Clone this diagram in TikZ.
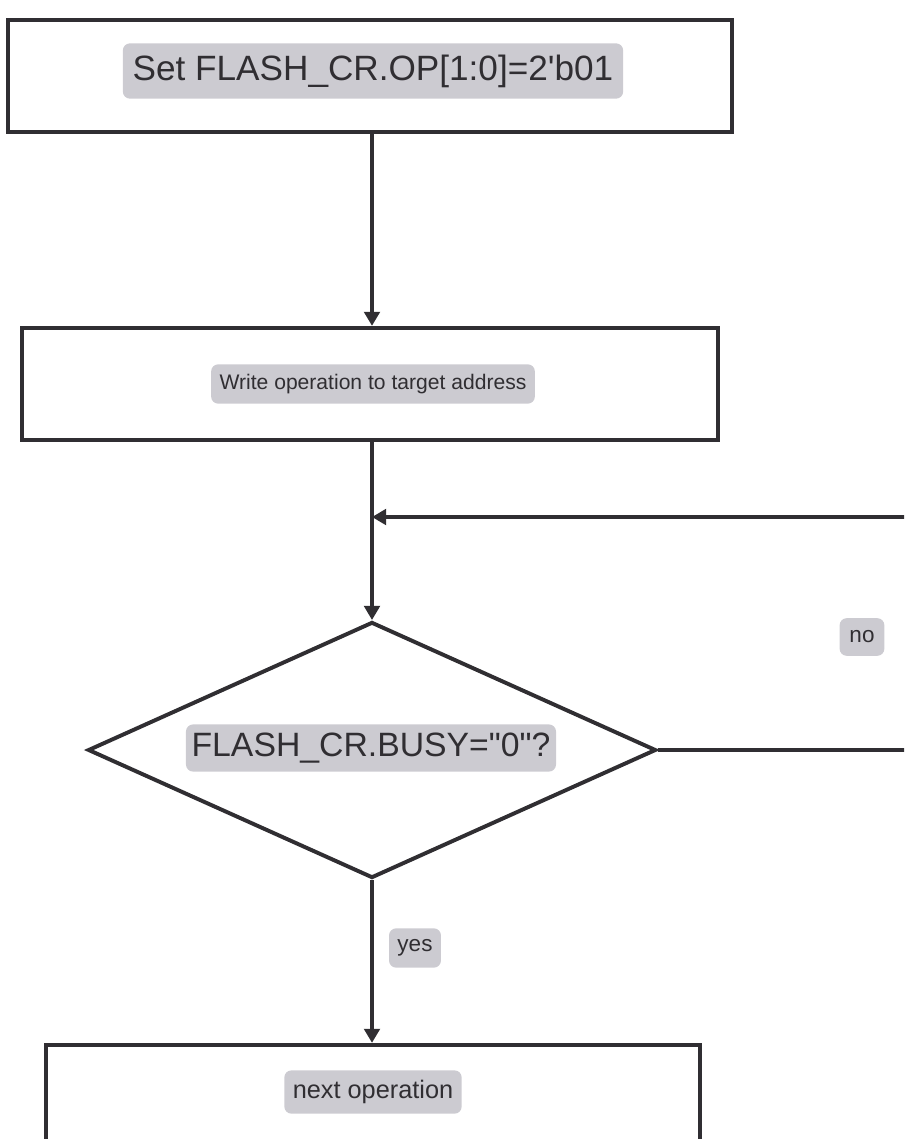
\documentclass[tikz,border=0pt]{standalone}
\usepackage{fontspec}
\setmainfont{Liberation Sans}
\usepackage{tikz}
\usetikzlibrary{arrows.meta, shapes.geometric, calc}
\definecolor{lblgray}{RGB}{204,203,209}
\definecolor{inkgray}{RGB}{48,46,50}

\tikzset{
  stepbox/.style={draw=inkgray, line width=3pt, minimum width=#1, inner sep=0pt},
  decbox/.style={draw=inkgray, line width=2.8pt, shape=diamond, aspect=2.2, inner sep=0pt},
  tag/.style={fill=lblgray, rounded corners=5pt, text=inkgray, inner xsep=6pt, inner ysep=7pt},
  flow/.style={draw=inkgray, line width=2.6pt, -{Triangle[width=11pt,length=10pt]}},
  wire/.style={draw=inkgray, line width=2.6pt}
}

\begin{document}
\begin{tikzpicture}[x=0.025cm, y=-0.025cm]
    \useasboundingbox (0, 0) rectangle (904, 1139);
    \clip (0, 0) rectangle (904, 1139);

    % boxes
    \node[stepbox=18.1cm, minimum height=2.8cm] (setop) at (370, 76) {};
    \node[stepbox=17.4cm, minimum height=2.8cm] (write) at (370, 384) {};
    \node[decbox, minimum width=14.2cm, minimum height=6.4cm] (busy) at (372, 750) {};
    \node[stepbox=16.35cm, minimum height=3.6cm] (next) at (373, 1117) {};

    % texts
    \node[tag, font=\fontsize{25}{30}\selectfont, inner xsep=7pt, inner ysep=8pt] (setlbl) at (373, 71) {Set FLASH\_CR.OP[1:0]=2\textquotesingle b01};
    \node[tag, font=\fontsize{15}{18}\selectfont] (writelbl) at (373, 384) {Write operation to target address};
    \node[tag, font=\fontsize{24}{28}\selectfont, inner xsep=4pt, inner ysep=6pt] (busylbl) at (371, 748) {FLASH\_CR.BUSY=\textquotedbl 0\textquotedbl ?};
    \node[tag, font=\fontsize{18}{22}\selectfont, inner ysep=7pt] (nextlbl) at (373, 1092) {next operation};
    \node[tag, font=\fontsize{16}{19}\selectfont, inner xsep=7pt, inner ysep=9pt] (nolbl) at (862, 637) {no};
    \node[tag, font=\fontsize{16}{19}\selectfont, inner xsep=6pt, inner ysep=8pt] (yeslbl) at (415, 948) {yes};

    % loop points
    \coordinate (merge) at (372, 517);
    \coordinate (loopR) at (915, 750);

    \draw[flow] (setop.south -| merge) -- (write.north -| merge);
    \draw[wire] (write.south -| merge) -- (merge);
    \draw[flow] (merge) -- (busy.north);
    \draw[flow] (busy.east) -- (loopR) |- (merge);
    \draw[flow] (busy.south) -- (next.north -| busy.south);
\end{tikzpicture}
\end{document}
